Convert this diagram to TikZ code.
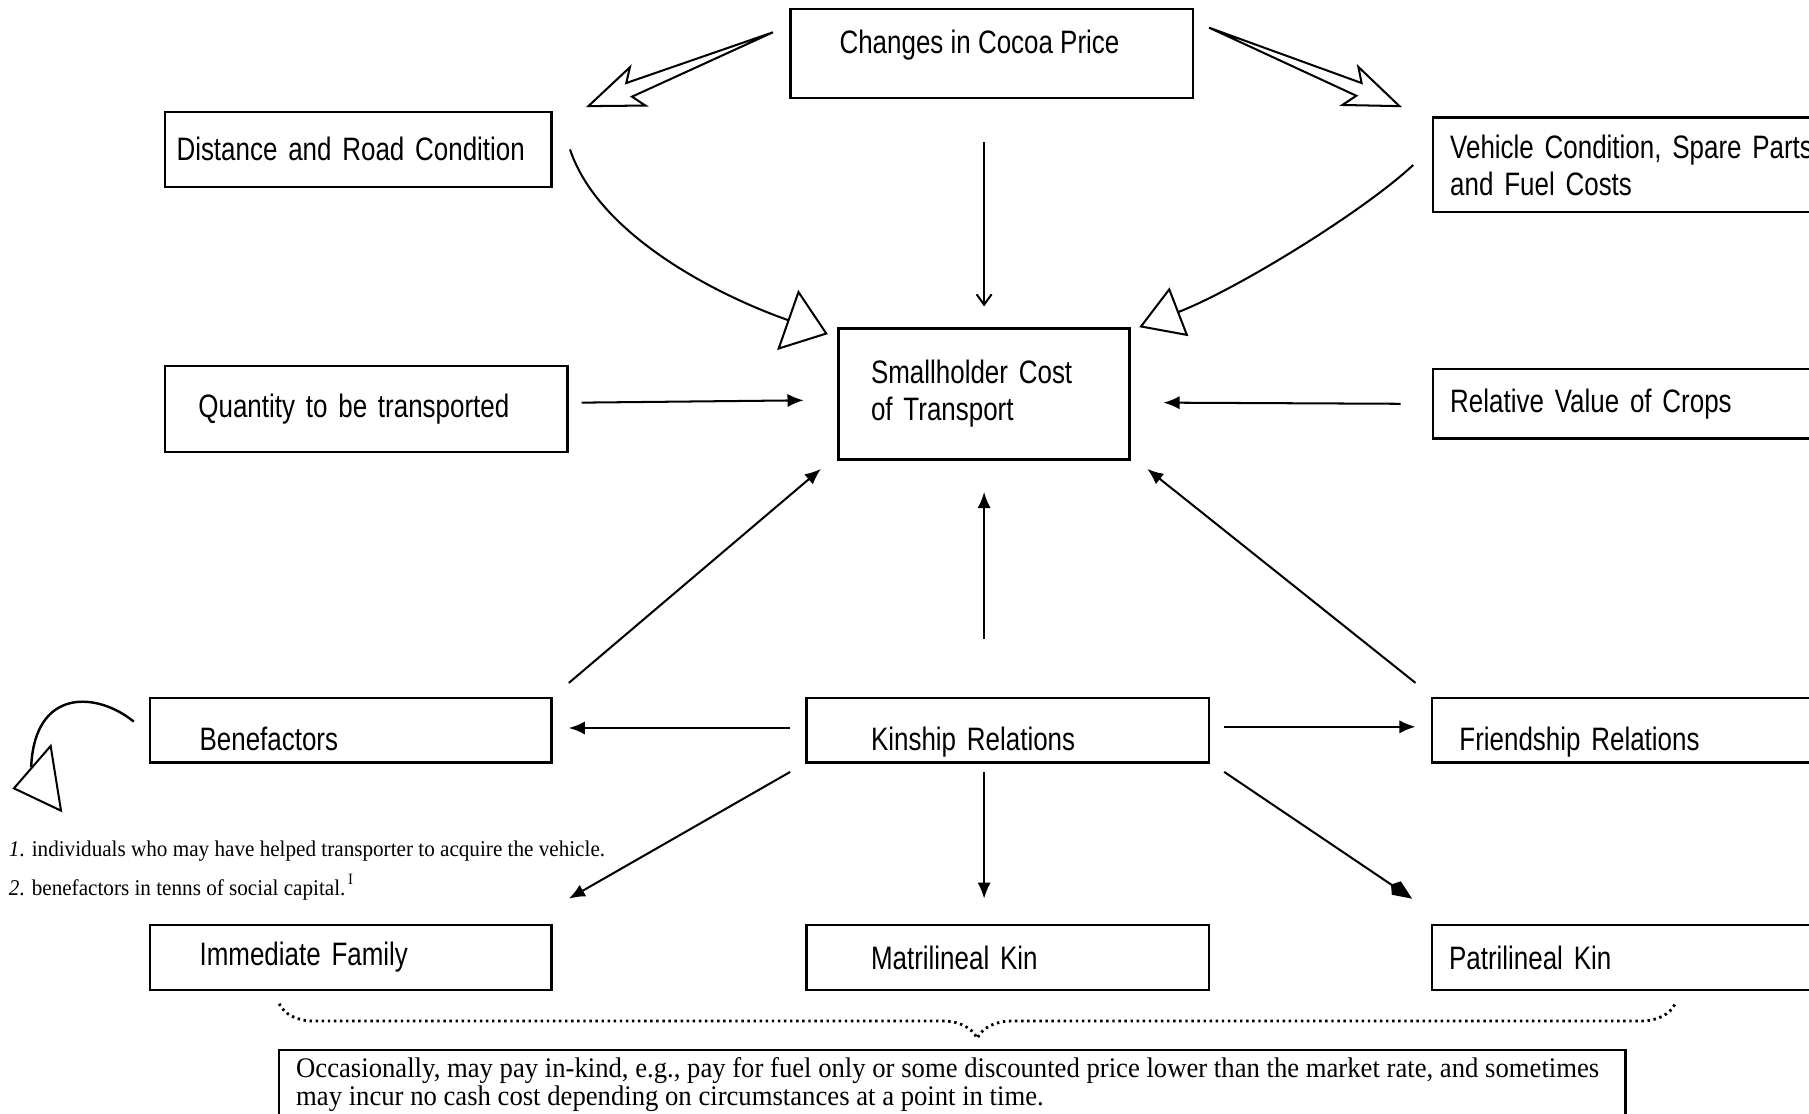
\documentclass[tikz,border=0pt]{standalone}
\usepackage{fontspec}
\usetikzlibrary{arrows.meta,decorations.pathreplacing}
\newfontfamily\narrowsans[FakeStretch=0.80]{Liberation Sans}
\newfontfamily\notefont[FakeStretch=0.94]{Liberation Serif}

\begin{document}
\begin{tikzpicture}[x=1cm, y=-1cm,
    box/.style = {draw, semithick, rectangle, align=left, inner ysep=0pt, font=\narrowsans\fontsize{8}{9.1}\selectfont},
    lowtext/.style = {text height=10pt, text depth=0pt},
    arr/.style = {-{Latex[length=1.4mm,width=1.15mm]}, line width=0.5pt},
    hollow/.style = {-{Triangle[open,#1]}, line width=0.5pt}]
    \useasboundingbox (0,0) rectangle (15.68,9.65);
    \clip (0,0) rectangle (15.68,9.65);
    % top row
    \node[draw, semithick, minimum width=3.49cm, minimum height=0.77cm] (cocoa) at (8.595,0.465) {};
    \node[anchor=west, inner sep=0pt, font=\narrowsans\fontsize{8}{9.1}\selectfont] (cocoatxt) at (7.27,0.39) {Changes in Cocoa Price};
    \node[box, minimum height=0.65cm, text width=3.15cm, inner xsep=0.10cm] (dist) at (3.105,1.295) {Distance and Road Condition};
    \node[box, minimum height=0.82cm, text width=3.48cm, inner xsep=0.15cm] (vehicle) at (14.31,1.43) {Vehicle Condition, Spare Parts\\and Fuel Costs};
    % middle row
    \node[box, thick, minimum height=1.13cm, text width=1.96cm, inner xsep=0.28cm] (cost) at (8.53,3.415) {Smallholder Cost\\of Transport};
    \node[box, minimum height=0.75cm, text width=2.91cm, inner xsep=0.29cm] (qty) at (3.175,3.545) {Quantity to be transported};
    \node[box, minimum height=0.60cm, text width=3.48cm, inner xsep=0.15cm] (relval) at (14.31,3.50) {Relative Value of Crops};
    % relations
    \node[box, lowtext, minimum height=0.56cm, text width=2.62cm, inner xsep=0.43cm] (benef) at (3.04,6.33) {Benefactors};
    \node[box, lowtext, minimum height=0.56cm, text width=2.37cm, inner xsep=0.56cm] (kin) at (8.735,6.33) {Kinship Relations};
    \node[box, lowtext, minimum height=0.56cm, text width=3.31cm, inner xsep=0.24cm] (friend) at (14.305,6.33) {Friendship Relations};
    \node[box, minimum height=0.56cm, text width=2.62cm, inner xsep=0.43cm] (family) at (3.04,8.30) {Immediate Family};
    \node[box, minimum height=0.56cm, text width=2.37cm, inner xsep=0.56cm] (matri) at (8.735,8.30) {Matrilineal Kin};
    \node[box, minimum height=0.56cm, text width=3.49cm, inner xsep=0.15cm] (patri) at (14.305,8.30) {Patrilineal Kin};
    % note
    \node[draw, semithick, minimum width=11.67cm, minimum height=0.80cm] (note) at (8.255,9.50) {};
    \node[anchor=north west, inner sep=0pt, align=left, font=\notefont\fontsize{7}{7.1}\selectfont] (notetxt) at (2.56,9.155) {Occasionally, may pay in-kind, e.g., pay for fuel only or some discounted price lower than the market rate, and sometimes\\may incur no cash cost depending on circumstances at a point in time.};
    \node[anchor=west, inner sep=0pt, font=\notefont\fontsize{5.55}{6}\selectfont] (fn1) at (0.07,7.38) {\textit{1}. individuals who may have helped transporter to acquire the vehicle.};
    \node[anchor=west, inner sep=0pt, font=\notefont\fontsize{5.55}{6}\selectfont] (fn2) at (0.07,7.69) {\textit{2}. benefactors in tenns of social capital.\textsuperscript{\,I}};
    % block arrows from the price box
    \draw[line width=0.5pt] (6.70,0.28) -- (5.478,0.838) -- (5.594,0.915) -- (5.10,0.92) -- (5.460,0.583) -- (5.428,0.720) -- cycle;
    \draw[line width=0.5pt] (10.48,0.24) -- (11.756,0.830) -- (11.636,0.910) -- (12.13,0.92) -- (11.774,0.580) -- (11.802,0.720) -- cycle;
    % into the cost box
    \draw[-{Straight Barb[length=0.9mm,width=1.3mm]}, line width=0.5pt, shorten <=0.37cm, shorten >=0.18cm] (cost.north |- cocoa.south) -- (cost.north);
    \draw[hollow={length=3.7mm,width=5.5mm}] ([xshift=0.15cm]dist.east) .. controls +(0.25,0.75) and +(-0.94,-0.33) .. ([xshift=-0.08cm,yshift=-0.06cm]cost.north west);
    \draw[hollow={length=3.7mm,width=4.5mm}] ([xshift=-0.16cm]vehicle.west) .. controls +(-0.44,0.41) and +(0.84,-0.325) .. ([xshift=0.07cm]cost.north east);
    \draw[arr] ([xshift=0.11cm,yshift=0.055cm]qty.east) -- ([xshift=-0.29cm,yshift=-0.055cm]cost.west);
    \draw[arr] ([xshift=-0.27cm]relval.west) -- ([xshift=0.28cm,yshift=-0.075cm]cost.east);
    \draw[arr] ([xshift=0.14cm,yshift=0.12cm]benef.north east) -- ([xshift=-0.14cm,yshift=-0.07cm]cost.south west);
    \draw[arr] ([xshift=-0.13cm,yshift=0.12cm]friend.north west) -- ([xshift=0.14cm,yshift=-0.07cm]cost.south east);
    \draw[arr, shorten <=0.5cm, shorten >=0.27cm] (cost.south |- kin.north) -- (cost.south);
    % out of kinship
    \draw[arr] ([xshift=-0.13cm,yshift=0.02cm]kin.west) -- ([xshift=0.14cm,yshift=0.02cm]benef.east);
    \draw[arr] ([xshift=0.12cm,yshift=0.03cm]kin.east) -- ([xshift=-0.13cm,yshift=0.03cm]friend.west);
    \draw[arr] ([xshift=-0.13cm,yshift=-0.07cm]kin.south west) -- ([xshift=0.14cm,yshift=0.22cm]family.north east);
    \draw[arr, shorten <=0.07cm, shorten >=0.22cm] (cost.south |- kin.south) -- (cost.south |- matri.north);
    \draw[-{Kite[length=2.2mm,width=1.4mm]}, line width=0.5pt] ([xshift=0.12cm,yshift=-0.07cm]kin.south east) -- ([xshift=-0.16cm,yshift=0.22cm]patri.north west);
    % loop beside benefactors
    \draw[line width=0.6pt] ([xshift=-0.13cm,yshift=0.075cm]benef.west) .. controls (0.85,6.0) and (0.30,5.95) .. (0.27,6.65);
    \draw[line width=0.5pt] (0.439,6.466) -- (0.121,6.833) -- (0.529,7.027) -- cycle;
    % brace over the three kin boxes
    \coordinate (braceL) at (2.42,8.70);
    \coordinate (braceR) at (14.52,8.70);
    \draw[line width=0.7pt, dash pattern=on 0.6pt off 0.9pt, decorate, decoration={brace, mirror, amplitude=0.3cm}] (braceL) -- (braceR);
\end{tikzpicture}
\end{document}
